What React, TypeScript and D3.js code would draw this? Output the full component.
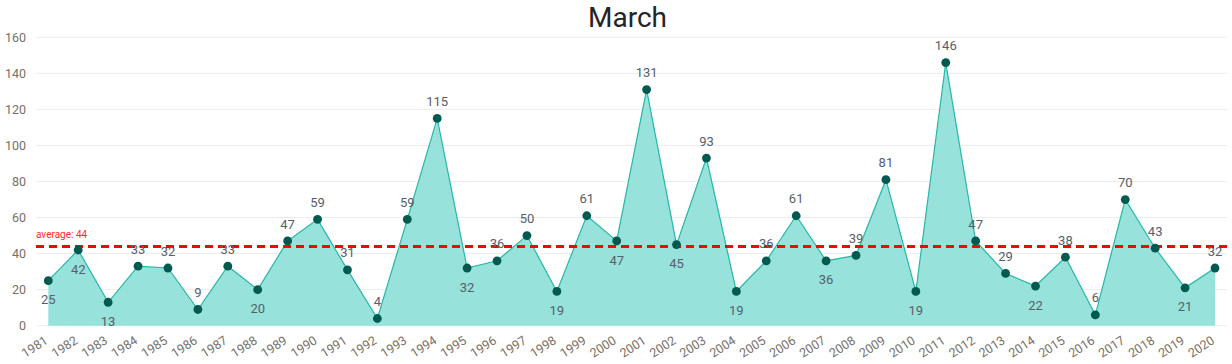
import * as d3 from 'd3';

const YEARS = [
  '1981', '1982', '1983', '1984', '1985', '1986', '1987', '1988', '1989', '1990',
  '1991', '1992', '1993', '1994', '1995', '1996', '1997', '1998', '1999', '2000',
  '2001', '2002', '2003', '2004', '2005', '2006', '2007', '2008', '2009', '2010',
  '2011', '2012', '2013', '2014', '2015', '2016', '2017', '2018', '2019', '2020',
];
const VALUES = [
  25, 42, 13, 33, 32, 9, 33, 20, 47, 59,
  31, 4, 59, 115, 32, 36, 50, 19, 61, 47,
  131, 45, 93, 19, 36, 61, 36, 39, 81, 19,
  146, 47, 29, 22, 38, 6, 70, 43, 21, 32,
];
const Y_TICKS = [0, 20, 40, 60, 80, 100, 120, 140, 160];
const AVERAGE = 44;
const TITLE = 'March';
// years whose data label sits under the marker (as in the original)
const BELOW = new Set(['1981', '1982', '1983', '1988', '1995', '1998', '2000', '2002', '2004', '2007', '2010', '2014', '2019']);

const W = 1232, H = 364;
const FONT = 'Roboto, "DejaVu Sans", sans-serif';

export default function App() {
  const x = d3.scalePoint<string>().domain(YEARS).range([48.3, 1215]);
  const y = d3.scaleLinear().domain([0, 160]).range([325.7, 37.3]);
  const pts = YEARS.map((yr, i) => ({ yr, v: VALUES[i] }));

  const area = d3.area<{ yr: string; v: number }>()
    .x((d) => x(d.yr)!).y0(y(0)).y1((d) => y(d.v));
  const line = d3.line<{ yr: string; v: number }>()
    .x((d) => x(d.yr)!).y((d) => y(d.v));

  const gridX0 = 36, gridX1 = 1227;

  return (
    <div style={{ position: 'absolute', left: 0, top: 0 }}>
      <svg width={W} height={H} style={{ display: 'block', fontFamily: FONT }}>
        <rect width={W} height={H} fill="#fff" />
        <text x={627.5} y={27} textAnchor="middle" fontSize={28} fill="#252423">{TITLE}</text>

        {Y_TICKS.map((t) => (
          <g key={t}>
            <line x1={gridX0} x2={gridX1} y1={y(t)} y2={y(t)} stroke="#ececec" strokeWidth={1} />
            <text x={26} y={y(t)} dy="0.35em" textAnchor="end" fontSize={12.5} fill="#777069">{t}</text>
          </g>
        ))}

        <path d={area(pts)!} fill="#97e2da" />
        <path d={line(pts)!} fill="none" stroke="#25b8a8" strokeWidth={1.2} />

        <line x1={gridX0} x2={gridX1} y1={y(AVERAGE)} y2={y(AVERAGE)}
          stroke="#ff0000" strokeWidth={3} strokeDasharray="8 5" />
        <text x={gridX0} y={y(AVERAGE) - 8} fontSize={10} fill="#ff2a2a">{`average: ${AVERAGE}`}</text>

        {pts.map((d) => (
          <circle key={d.yr} cx={x(d.yr)} cy={y(d.v)} r={4.4} fill="#005a4f" />
        ))}

        {pts.map((d) => (
          <text key={d.yr} x={x(d.yr)} y={y(d.v) + (BELOW.has(d.yr) ? 19 : -17)} dy="0.35em"
            textAnchor="middle" fontSize={13} fill="#56606a">{d.v}</text>
        ))}

        {YEARS.map((yr) => (
          <text key={yr} transform={`translate(${x(yr)! - 2},${339}) rotate(-33)`} dy="0.35em"
            textAnchor="end" fontSize={12.5} fill="#777069">{yr}</text>
        ))}
      </svg>
    </div>
  );
}
